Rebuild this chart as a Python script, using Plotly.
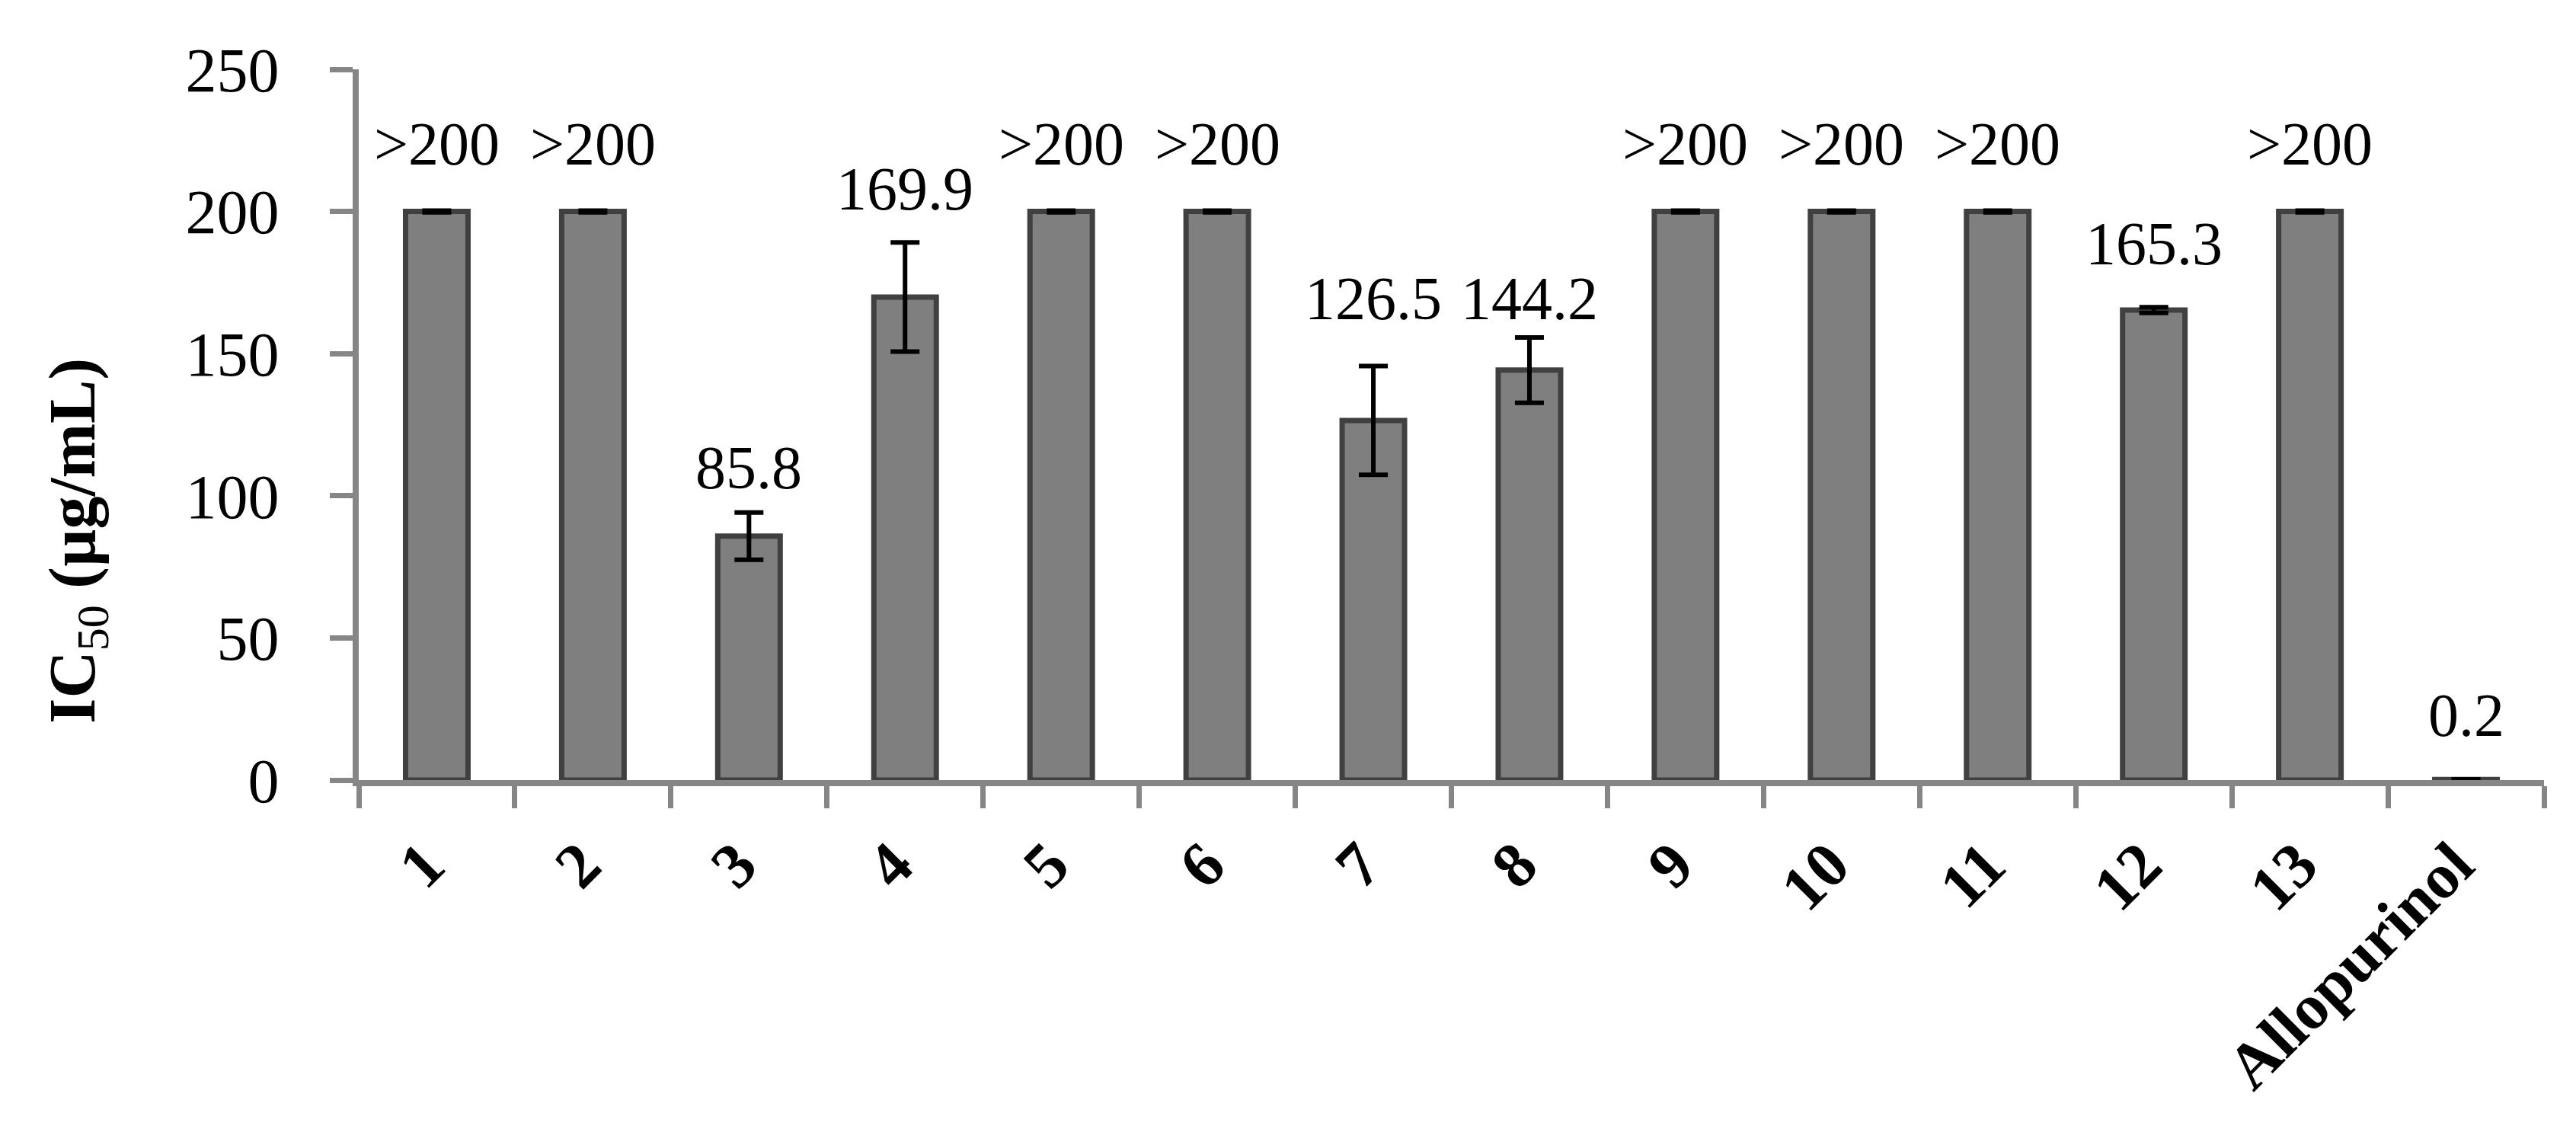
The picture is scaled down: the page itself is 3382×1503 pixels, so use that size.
import plotly.graph_objects as go

# IC50 values per compound (µg/mL), mean and SD
compounds = ["1", "2", "3", "4", "5", "6", "7", "8", "9", "10", "11", "12", "13", "Allopurinol"]
ic50 = [200, 200, 85.8, 169.9, 200, 200, 126.5, 144.2, 200, 200, 200, 165.3, 200, 0.2]
sd = [0.3, 0.3, 8.3, 19.2, 0.3, 0.3, 19.1, 11.5, 0.3, 0.3, 0.3, 1.0, 0.3, 0.05]
value_labels = [">200", ">200", "85.8", "169.9", ">200", ">200", "126.5", "144.2",
                ">200", ">200", ">200", "165.3", ">200", "0.2"]

# how far each value label sits above its error bar, px
label_shift = [87, 87, 59, 70, 87, 87, 89, 51, 87, 87, 87, 83, 87, 84]

FONT = "Liberation Serif"
AXIS_GREY = "#868686"

fig = go.Figure()
fig.add_trace(go.Bar(
    x=compounds, y=ic50,
    marker=dict(color="#7f7f7f", line=dict(color="#404040", width=7)),
    error_y=dict(type="data", array=sd, color="black", thickness=6, width=19),
    showlegend=False,
))

# category axis -> place labels by index
for i, (v, e, lab, s) in enumerate(zip(ic50, sd, value_labels, label_shift)):
    fig.add_annotation(x=i, y=v + e, text=lab, showarrow=False, yanchor="middle",
                       yshift=s, font=dict(family=FONT, size=80, color="black"))

fig.add_annotation(xref="paper", yref="paper", x=-0.129, y=0.3365, xanchor="center", yanchor="middle",
                   text="<b>IC</b><sub>50</sub><b> (µg/mL)</b>", textangle=-90, showarrow=False,
                   font=dict(family=FONT, size=86, color="black"))

fig.update_layout(
    width=3382, height=1503,
    margin=dict(l=463, r=50, t=83, b=487),
    paper_bgcolor="white", plot_bgcolor="white",
    bargap=0.6,
    font=dict(family=FONT, color="black"),
)
fig.update_yaxes(range=[0, 250], dtick=50, showgrid=False, zeroline=False, automargin=False,
                 showline=True, linecolor=AXIS_GREY, linewidth=8,
                 ticks="outside", ticklen=30, tickwidth=7, tickcolor=AXIS_GREY,
                 ticklabelstandoff=50,
                 tickfont=dict(family=FONT, size=82, color="black"))
fig.update_xaxes(type="category", showgrid=False, showline=True, linecolor=AXIS_GREY, linewidth=8,
                 automargin=False,
                 ticks="outside", tickson="boundaries", ticklen=29, tickwidth=7, tickcolor=AXIS_GREY,
                 tickangle=-45, ticklabelstandoff=20, ticklabelshift=-15,
                 tickfont=dict(family=FONT, size=84, color="black", weight="bold"))

fig.write_html("out.html")
